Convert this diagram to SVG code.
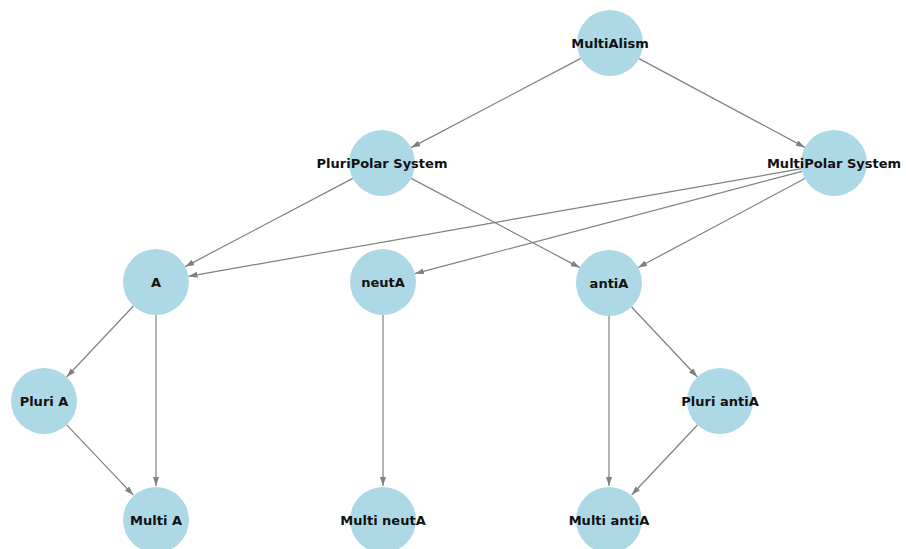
<svg xmlns="http://www.w3.org/2000/svg" width="906" height="549" viewBox="0 0 906 549">
<style>
.edge{stroke:#808080;stroke-width:1.2;fill:none;marker-end:url(#arr)}
.node circle{fill:#add8e6;stroke:none}
.node text{font-family:"DejaVu Sans",sans-serif;font-weight:bold;font-size:13px;fill:#111;text-anchor:middle;dominant-baseline:central}
</style>
<defs>
<marker id="arr" markerUnits="userSpaceOnUse" markerWidth="9" markerHeight="6" refX="9" refY="3" orient="auto">
<path d="M0,0 L9,3 L0,6 z" fill="#808080"/>
</marker>
</defs>
<rect width="906" height="549" fill="#fff"/>
<g id="edges">
<line class="edge" x1="580.8" y1="58.4" x2="411.2" y2="147.6"/>
<line class="edge" x1="639.1" y1="58.6" x2="804.9" y2="147.4"/>
<line class="edge" x1="352.8" y1="178.4" x2="185.2" y2="266.6"/>
<line class="edge" x1="411.2" y1="178.4" x2="579.8" y2="267.6"/>
<line class="edge" x1="801.5" y1="168.7" x2="188.5" y2="276.3"/>
<line class="edge" x1="802.1" y1="171.4" x2="414.9" y2="273.6"/>
<line class="edge" x1="804.9" y1="178.5" x2="638.1" y2="267.5"/>
<line class="edge" x1="133.4" y1="306" x2="66.6" y2="377"/>
<line class="edge" x1="156" y1="315" x2="156" y2="486"/>
<line class="edge" x1="66.7" y1="424.9" x2="133.3" y2="495.1"/>
<line class="edge" x1="383" y1="315" x2="383" y2="486"/>
<line class="edge" x1="609" y1="316" x2="609" y2="486"/>
<line class="edge" x1="631.6" y1="307" x2="697.4" y2="377"/>
<line class="edge" x1="697.4" y1="425" x2="631.6" y2="495"/>
</g>
<g id="n_multialism" class="node"><circle cx="610" cy="43" r="33"/><text x="610" y="43">MultiAlism</text></g>
<g id="n_pluripolar" class="node"><circle cx="382" cy="163" r="33"/><text x="382" y="163">PluriPolar System</text></g>
<g id="n_multipolar" class="node"><circle cx="834" cy="163" r="33"/><text x="834" y="163">MultiPolar System</text></g>
<g id="n_a" class="node"><circle cx="156" cy="282" r="33"/><text x="156" y="282">A</text></g>
<g id="n_neuta" class="node"><circle cx="383" cy="282" r="33"/><text x="383" y="282">neutA</text></g>
<g id="n_antia" class="node"><circle cx="609" cy="283" r="33"/><text x="609" y="283">antiA</text></g>
<g id="n_pluria" class="node"><circle cx="44" cy="401" r="33"/><text x="44" y="401">Pluri A</text></g>
<g id="n_pluriantia" class="node"><circle cx="720" cy="401" r="33"/><text x="720" y="401">Pluri antiA</text></g>
<g id="n_multia" class="node"><circle cx="156" cy="520" r="33"/><text x="156" y="520">Multi A</text></g>
<g id="n_multineuta" class="node"><circle cx="383" cy="520" r="33"/><text x="383" y="520">Multi neutA</text></g>
<g id="n_multiantia" class="node"><circle cx="609" cy="520" r="33"/><text x="609" y="520">Multi antiA</text></g>
</svg>
